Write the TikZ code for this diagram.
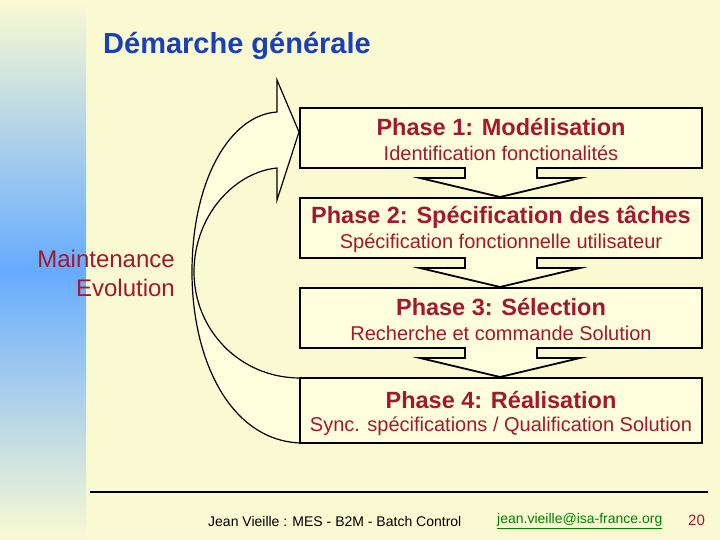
\documentclass[tikz,border=0pt]{standalone}
\usepackage{fontspec}
\setmainfont{Liberation Sans}
\begin{document}
\begin{tikzpicture}[x=1pt,y=-1pt,
  box/.style={draw=black,line width=1.8pt,fill=boxfill,line join=miter},
  ph/.style={text=phred,font=\bfseries\fontsize{23.5}{26}\selectfont,inner sep=0},
  sub/.style={text=phred,font=\fontsize{20}{23}\selectfont,inner sep=0}]
\definecolor{bg}{HTML}{FAFAD2}
\definecolor{boxfill}{HTML}{FFFFDD}
\definecolor{phred}{HTML}{A3182F}
\definecolor{ttl}{HTML}{1A3FB8}
\useasboundingbox (0,0) rectangle (720,540);
\fill[bg] (0,0) rectangle (720,540);
\shade[top color=bg,bottom color=blue!55!cyan!60!white] (0,0) rectangle (86,270);
\shade[top color=blue!55!cyan!60!white,bottom color=bg] (0,270) rectangle (86,540);
\node[text=ttl,font=\bfseries\fontsize{29}{32}\selectfont,anchor=west,inner sep=0] (title) at (103,46) {Démarche générale};
% curved arrow
\draw[line width=1.2pt,fill=boxfill,line join=miter] (300,443) .. controls (230,440) and (192,360) .. (192,272) .. controls (192,180) and (230,115) .. (277,112) -- (277,80) -- (299,132) -- (277,200) -- (277,168) .. controls (235,172) and (194,215) .. (194,272) .. controls (194,330) and (240,378) .. (300,378);
% boxes
\foreach \t in {108,198,288}{
\draw[box] (300,\t) -- (702,\t) -- (702,\t+60) -- (537,\t+60) -- (537,\t+70) -- (580,\t+70) -- (500,\t+89) -- (420,\t+70) -- (465,\t+70) -- (465,\t+60) -- (300,\t+60) -- cycle;}
\draw[box] (300,378) rectangle (702,443);
\node[ph] (p1) at (501,127) {Phase 1: Modélisation};
\node[sub] (s1) at (501,153) {Identification fonctionalités};
\node[ph] (p2) at (501,217) {Phase 2: Spécification des tâches};
\node[sub] (s2) at (501,243) {Spécification fonctionnelle utilisateur};
\node[ph] (p3) at (501,307) {Phase 3: Sélection};
\node[sub] (s3) at (501,333) {Recherche et commande Solution};
\node[ph] (p4) at (501,400) {Phase 4: Réalisation};
\node[sub] (s4) at (501,426) {Sync. spécifications / Qualification Solution};
\node[text=phred,font=\fontsize{24}{29}\selectfont,align=right,anchor=east,inner sep=0] (me) at (175,273) {Maintenance\\Evolution};
\draw[line width=1.5pt] (90,492) -- (708,492);
\node[font=\fontsize{14}{16}\selectfont,anchor=west,inner sep=0] (f1) at (208,521) {Jean Vieille : MES - B2M - Batch Control};
\node[text=green!50!black,font=\fontsize{14}{16}\selectfont,anchor=west,inner sep=0] (f2) at (497,521) {\underline{jean.vieille@isa-france.org}};
\node[text=phred,font=\fontsize{15}{17}\selectfont,anchor=west,inner sep=0] (f3) at (688,520) {20};
\end{tikzpicture}
\end{document}
